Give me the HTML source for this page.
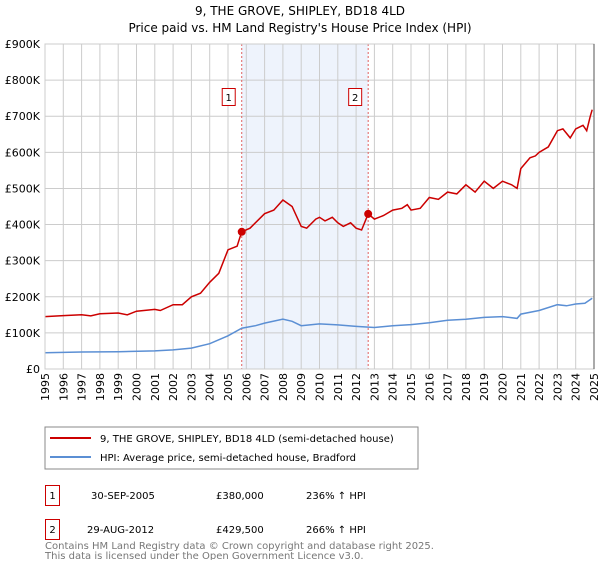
<!DOCTYPE html>
<html><head><meta charset="utf-8"><style>
body{margin:0;background:#fff;font-family:"Liberation Sans","DejaVu Sans",sans-serif;}
svg text{font-family:"DejaVu Sans","Liberation Sans",sans-serif;}
</style></head><body>
<svg id="c" width="600" height="560" xmlns="http://www.w3.org/2000/svg">
<text x="300" y="15" text-anchor="middle" font-size="12" fill="#000">9, THE GROVE, SHIPLEY, BD18 4LD</text>
<text x="300" y="32" text-anchor="middle" font-size="12" fill="#000">Price paid vs. HM Land Registry's House Price Index (HPI)</text>
<g id="plot"></g>
<rect x="45" y="427" width="373" height="42" fill="#fff" stroke="#888"/>
<line x1="50" y1="438" x2="91" y2="438" stroke="#cc0000" stroke-width="2"/>
<text x="100" y="442" font-size="10">9, THE GROVE, SHIPLEY, BD18 4LD (semi-detached house)</text>
<line x1="50" y1="457" x2="91" y2="457" stroke="#5b8fd4" stroke-width="2"/>
<text x="100" y="461" font-size="10">HPI: Average price, semi-detached house, Bradford</text>
<rect x="45.5" y="485.5" width="14" height="20" fill="none" stroke="#cc0000"/>
<text x="52.5" y="499" font-size="10" text-anchor="middle">1</text>
<text x="91" y="499" font-size="10">30-SEP-2005</text>
<text x="216" y="499" font-size="10">£380,000</text>
<text x="306" y="499" font-size="10">236% ↑ HPI</text>
<rect x="45.5" y="519.5" width="14" height="20" fill="none" stroke="#cc0000"/>
<text x="52.5" y="533" font-size="10" text-anchor="middle">2</text>
<text x="87" y="533" font-size="10">29-AUG-2012</text>
<text x="216" y="533" font-size="10">£429,500</text>
<text x="306" y="533" font-size="10">266% ↑ HPI</text>
<text x="45" y="549" font-size="10" fill="#777">Contains HM Land Registry data © Crown copyright and database right 2025.</text>
<text x="45" y="559" font-size="10" fill="#777">This data is licensed under the Open Government Licence v3.0.</text>
</svg>
<script>
const yTicks=[0,100,200,300,400,500,600,700,800,900];
const yTickLabels=["£0","£100K","£200K","£300K","£400K","£500K","£600K","£700K","£800K","£900K"];
const years=[1995,1996,1997,1998,1999,2000,2001,2002,2003,2004,2005,2006,2007,2008,2009,2010,2011,2012,2013,2014,2015,2016,2017,2018,2019,2020,2021,2022,2023,2024,2025];
const redX=[1995,1996,1997,1997.5,1998,1999,1999.5,2000,2001,2001.3,2002,2002.5,2003,2003.5,2004,2004.5,2005,2005.5,2005.75,2006.2,2007,2007.5,2008,2008.5,2009,2009.3,2009.8,2010,2010.3,2010.7,2011,2011.3,2011.7,2012,2012.3,2012.66,2013,2013.5,2014,2014.5,2014.8,2015,2015.5,2016,2016.5,2017,2017.5,2018,2018.5,2019,2019.5,2020,2020.5,2020.8,2021,2021.5,2021.8,2022,2022.5,2023,2023.3,2023.7,2024,2024.4,2024.6,2024.8,2024.9];
const redY=[145,148,150,147,153,155,150,160,165,162,178,178,200,210,240,265,330,340,380,390,430,440,468,450,395,390,415,420,410,420,405,395,405,390,385,429.5,415,425,440,445,455,440,445,475,470,490,485,510,490,520,500,520,510,500,555,585,590,600,615,660,665,640,665,675,660,700,718];
const blueX=[1995,1997,1999,2001,2002,2003,2004,2005,2005.75,2006.5,2007,2008,2008.5,2009,2010,2011,2012,2013,2014,2015,2016,2017,2018,2019,2020,2020.8,2021,2022,2023,2023.5,2024,2024.5,2024.9];
const blueY=[45,47,48,50,53,58,70,92,113,120,127,138,132,120,125,122,118,115,120,123,128,135,138,143,145,140,152,162,178,175,180,182,196];
const saleX=[2005.75,2012.66];
const saleY=[380,429.5];
const saleLabels=["1","2"];
const X0=45,X1=594,Y0=369,Y1=44;
const sx=v=>X0+(v-1995)/30*(X1-X0);
const sy=v=>Y0-v/900*(Y0-Y1);
const NS="http://www.w3.org/2000/svg";
const g=document.getElementById('plot');
function mk(t,a){const e=document.createElementNS(NS,t);for(const k in a)e.setAttribute(k,a[k]);g.appendChild(e);return e;}
let sh=mk('rect',{x:sx(saleX[0]),y:Y1,width:sx(saleX[1])-sx(saleX[0]),height:Y0-Y1,fill:'#eef3fc'});


yTicks.forEach((t,i)=>{
 let l=mk('line',{x1:X0,x2:X1,y1:sy(t),y2:sy(t),stroke:'#ccc'});
 
 
 let tx=mk('text',{x:40,y:sy(t)+4,'text-anchor':'end','font-size':'11'});tx.textContent=yTickLabels[i];
 
 
});
years.forEach(yr=>{
 let l=mk('line',{x1:sx(yr),x2:sx(yr),y1:Y1,y2:Y0,stroke:'#ccc'});
 
 
 let tx=mk('text',{x:0,y:0,'font-size':'11','text-anchor':'end',transform:`translate(${sx(yr)+4},${Y0+4}) rotate(-90)`});tx.textContent=yr;
 
 
});
saleX.forEach((v,i)=>{
 let l=mk('line',{x1:sx(v),x2:sx(v),y1:Y1,y2:Y0,stroke:'#e06060','stroke-dasharray':'2,2'});
 
 
 let r=mk('rect',{x:sx(v)-19.5,y:88.5,width:13,height:17,fill:'#fff',stroke:'#cc0000'});
 
 
 let t=mk('text',{x:sx(v)-13,y:101,'text-anchor':'middle','font-size':'10'});t.textContent=saleLabels[i];
});
const path=(xs,ys)=>xs.map((x,i)=>(i?'L':'M')+sx(x).toFixed(1)+','+sy(ys[i]).toFixed(1)).join('');
let pb=mk('path',{d:path(blueX,blueY),fill:'none',stroke:'#5b8fd4','stroke-width':1.5});


let pr=mk('path',{d:path(redX,redY),fill:'none',stroke:'#cc0000','stroke-width':1.5});


saleX.forEach((v,i)=>{
 let c=mk('circle',{cx:sx(v),cy:sy(saleY[i]),r:4,fill:'#cc0000'});
 
 
});
let ax=mk('rect',{x:X0,y:Y1,width:X1-X0,height:Y0-Y1,fill:'none',stroke:'#ccc'});


let rl=mk('line',{x1:X1,x2:X1,y1:Y1,y2:Y0,stroke:'#555'});


</script>
</body></html>
